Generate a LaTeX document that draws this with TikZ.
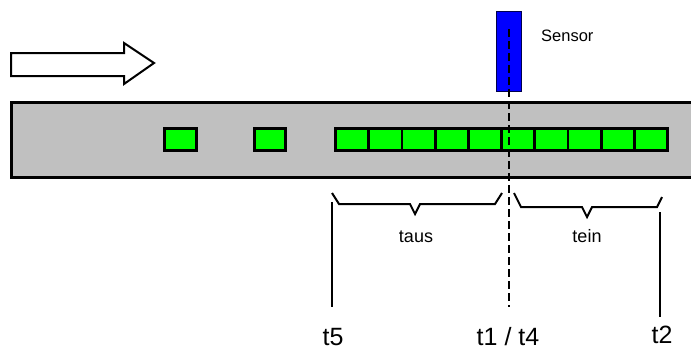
\documentclass[tikz,border=0pt]{standalone}
\usepackage{fontspec}
\setmainfont{Liberation Sans}
\definecolor{belt}{HTML}{C0C0C0}
\definecolor{part}{HTML}{00FF00}
\definecolor{sensorblue}{HTML}{0000FF}
\begin{document}
\begin{tikzpicture}[x=1pt,y=-1pt,
  partbox/.style={draw=black,fill=part,line width=2.8pt},
  bracestyle/.style={draw=black,line width=2pt,line join=miter},
  tick/.style={draw=black,line width=2pt},
  sensorfont/.style={font=\fontsize{16.5}{16.5}\selectfont,inner sep=0pt},
  smalllabel/.style={font=\fontsize{18}{18}\selectfont,inner sep=0pt},
  biglabel/.style={font=\fontsize{25}{25}\selectfont,inner sep=0pt}]
\useasboundingbox (0,0) rectangle (691,349);
% direction arrow
\draw[line width=2pt,fill=white,line join=miter] (11,53) -- (124,53) -- (124,43) -- (154,63) -- (124,84) -- (124,76) -- (11,76) -- cycle;
% conveyor belt
\draw[fill=belt,line width=3.2pt] (700,102.5) -- (11.5,102.5) -- (11.5,177.5) -- (700,177.5);
% single parts
\draw[partbox] (164.5,128.5) rectangle (196.5,150.5);
\draw[partbox] (254.5,128.5) rectangle (285.5,150.5);
% row of parts
\foreach \i in {0,...,9}{
  \draw[partbox] ({335.5+33.2*\i},128.5) rectangle ({335.5+33.2*(\i+1)},150.5);
}
% sensor
\draw[fill=sensorblue,draw=black!70!blue,line width=0.8pt] (496.5,11.5) rectangle (521.5,91.5);
\node[sensorfont,anchor=base west] (sensorlabel) at (541,41) {Sensor};
% dashed sensor line
\coordinate (dtop) at (509,29);
\coordinate (dbot) at (509,307);
\draw[line width=2pt,dash pattern=on 8pt off 4pt] (dtop) -- (dbot);
% braces
\draw[bracestyle] (332,193) -- (339,204) -- (410,204) -- (415,214) -- (420,204) -- (495,204) -- (502,193);
\draw[bracestyle] (514,193) -- (521,207) -- (582,207) -- (587,217) -- (592,207) -- (657,207) -- (662,197);
\node[smalllabel,anchor=base] (taus) at (416,242) {taus};
\node[smalllabel,anchor=base] (tein) at (587,242) {tein};
% time markers
\coordinate (t5top) at (332,202);
\coordinate (t5bot) at (332,307);
\coordinate (t2top) at (660,212);
\coordinate (t2bot) at (660,317);
\draw[tick] (t5top) -- (t5bot);
\draw[tick] (t2top) -- (t2bot);
\node[biglabel,anchor=base] (t5) at (333,345) {t5};
\node[biglabel,anchor=base] (t14) at (508,345) {t1 / t4};
\node[biglabel,anchor=base] (t2) at (662,343) {t2};
\end{tikzpicture}
\end{document}
